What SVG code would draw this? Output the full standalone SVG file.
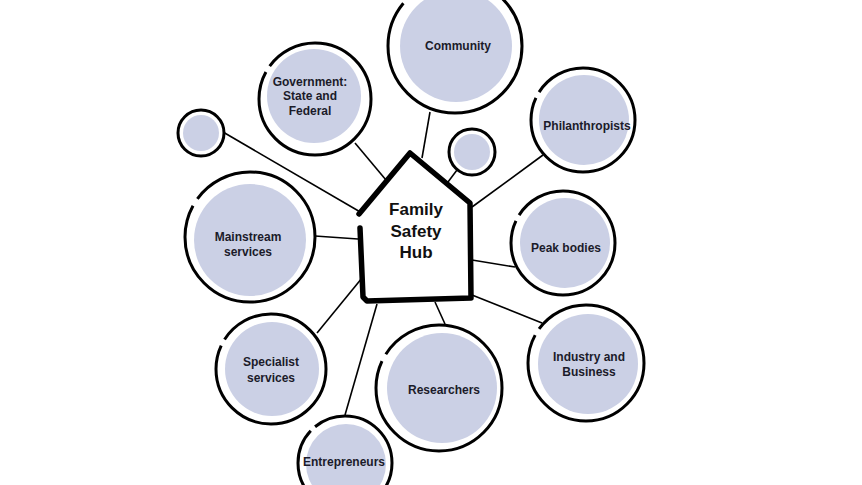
<svg xmlns="http://www.w3.org/2000/svg" width="862" height="485" viewBox="0 0 862 485">
<style>
.ring{fill:#fff;stroke:#000;stroke-width:3}
.fill{fill:#cbd0e5}
.lbl{font-family:"Liberation Sans",Arial,sans-serif;font-weight:bold;font-size:12px;fill:#1b1b2a;text-anchor:middle}
.hub{font-family:"Liberation Sans",Arial,sans-serif;font-weight:bold;font-size:17px;fill:#111;text-anchor:middle}
.conn line{stroke:#000;stroke-width:1.6}
</style>
<rect width="862" height="485" fill="#fff"/>
<g class="conn">
<line x1="223" y1="132" x2="362" y2="213"/>
<line x1="355" y1="143" x2="386" y2="180"/>
<line x1="430" y1="112" x2="422" y2="158"/>
<line x1="457" y1="170" x2="445" y2="186"/>
<line x1="543" y1="155" x2="472" y2="207"/>
<line x1="315" y1="236" x2="358" y2="239"/>
<line x1="515" y1="267" x2="472" y2="260"/>
<line x1="542" y1="323" x2="472" y2="295"/>
<line x1="445" y1="324" x2="435" y2="302"/>
<line x1="317" y1="333" x2="362" y2="278"/>
<line x1="345" y1="415" x2="377" y2="304"/>
</g>
<g id="community"><circle class="ring" cx="455" cy="46" r="67" pathLength="100" stroke-dasharray="61 2 100"/><circle class="fill" cx="456" cy="46" r="56"/><text class="lbl" x="458" y="50">Community</text></g>
<g id="philanthropists"><circle class="ring" cx="583" cy="120" r="52" pathLength="100" stroke-dasharray="57 2 100"/><circle class="fill" cx="584" cy="120" r="45"/><text class="lbl" x="587" y="130">Philanthropists</text></g>
<g id="small-top"><circle class="ring" cx="472" cy="152" r="23" stroke-width="2"/><circle class="fill" cx="472" cy="152" r="18"/></g>
<g id="government"><circle class="ring" cx="315" cy="99" r="56" pathLength="100" stroke-dasharray="58 2 100"/><circle class="fill" cx="314" cy="96" r="47"/><text class="lbl" x="310" y="86">Government:</text><text class="lbl" x="310" y="100">State and</text><text class="lbl" x="310" y="115">Federal</text></g>
<g id="small-left"><circle class="ring" cx="201" cy="133" r="23" stroke-width="2"/><circle class="fill" cx="201" cy="133" r="18"/></g>
<g id="mainstream"><circle class="ring" cx="250" cy="237" r="65" pathLength="100" stroke-dasharray="58 2 100"/><circle class="fill" cx="250" cy="240" r="56"/><text class="lbl" x="248" y="241">Mainstream</text><text class="lbl" x="248" y="256">services</text></g>
<g id="peak"><circle class="ring" cx="563" cy="243" r="52" pathLength="100" stroke-dasharray="57 2 100"/><circle class="fill" cx="565" cy="243" r="45"/><text class="lbl" x="566" y="252">Peak bodies</text></g>
<g id="industry"><circle class="ring" cx="586" cy="363" r="58" pathLength="100" stroke-dasharray="58 2 100"/><circle class="fill" cx="588" cy="364" r="50"/><text class="lbl" x="589" y="361">Industry and</text><text class="lbl" x="589" y="376">Business</text></g>
<g id="specialist"><circle class="ring" cx="271" cy="369" r="55" pathLength="100" stroke-dasharray="57 2 100"/><circle class="fill" cx="272" cy="369" r="47"/><text class="lbl" x="271" y="366">Specialist</text><text class="lbl" x="271" y="382">services</text></g>
<g id="researchers"><circle class="ring" cx="439" cy="388" r="63" pathLength="100" stroke-dasharray="57 2 100"/><circle class="fill" cx="442" cy="388" r="55"/><text class="lbl" x="444" y="394">Researchers</text></g>
<g id="entrepreneurs"><circle class="ring" cx="345" cy="463" r="47" pathLength="100" stroke-dasharray="62 2 100"/><circle class="fill" cx="346" cy="464" r="40"/><text class="lbl" x="344" y="466">Entrepreneurs</text></g>
<g id="hub">
<path d="M359,214 L410,153 L470,203 L471,298 L367,301 L363,297 L360,228" fill="#fff" stroke="#000" stroke-width="5.5" stroke-linejoin="round" stroke-linecap="round"/>
<text class="hub" x="416" y="215">Family</text>
<text class="hub" x="416" y="237">Safety</text>
<text class="hub" x="416" y="258">Hub</text>
</g>
</svg>
